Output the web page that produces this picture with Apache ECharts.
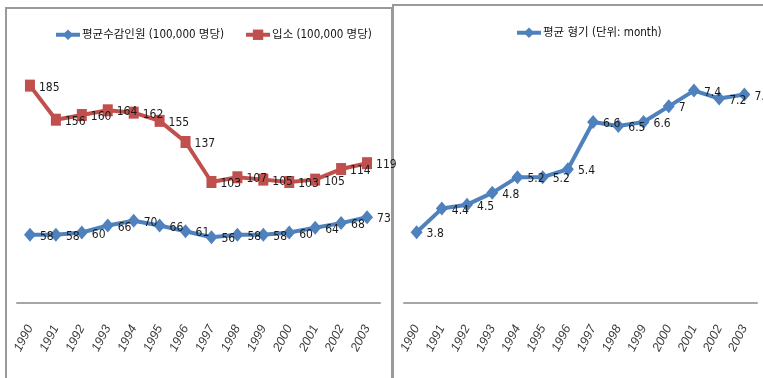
<!DOCTYPE html>
<html>
<head>
<meta charset="utf-8">
<script src="https://cdn.jsdelivr.net/npm/echarts@6/dist/echarts.min.js"></script>
<style>
html,body{margin:0;padding:0;background:#fff;}
#c{width:763px;height:378px;}
</style>
</head>
<body>
<div id="c"></div>
<script>
var years = ['1990','1991','1992','1993','1994','1995','1996','1997','1998','1999','2000','2001','2002','2003'];
var avgInmates = [58,58,60,66,70,66,61,56,58,58,60,64,68,73];
var admissions = [185,156,160,164,162,155,137,103,107,105,103,105,114,119];
var avgSentence = [3.8,4.4,4.5,4.8,5.2,5.2,5.4,6.6,6.5,6.6,7,7.4,7.2,7.3];
var nameInmates = '평균수감인원 (100,000 명당)';
var nameAdmissions = '입소 (100,000 명당)';
var nameSentence = '평균 형기 (단위: month)';

var BLUE = '#4F81BD', RED = '#C0504D';
var narrow = '"Liberation Sans Narrow", "DejaVu Sans Condensed", "Noto Sans CJK KR", sans-serif';

var chart = echarts.init(document.getElementById('c'), null, {renderer:'canvas'});

function xAxisFor(idx){
  return {
    type:'category', gridIndex:idx, data:years, boundaryGap:true,
    axisLine:{show:true, lineStyle:{color:'#a6a6a6', width:2}},
    axisTick:{show:false},
    axisLabel:{rotate:63, margin:23, fontSize:12.5, color:'#3a3a3a', fontStyle:'italic', fontFamily:'"Liberation Sans", sans-serif'},
    splitLine:{show:false}
  };
}
function labelCfg(){
  return {show:true, position:'right', distance:4, offset:[0,2], fontSize:12, color:'#1a1a1a', fontFamily:narrow};
}
var legendText = {fontSize:11.5, color:'#111', fontFamily:narrow, padding:[0,0,0,-3]};

chart.setOption({
  animation:false,
  graphic:[
    {type:'rect', shape:{x:6, y:8, width:386, height:420}, style:{fill:'none', stroke:'#9a9a9a', lineWidth:2}, z:0},
    {type:'rect', shape:{x:393, y:5, width:420, height:420}, style:{fill:'none', stroke:'#9a9a9a', lineWidth:2}, z:0}
  ],
  legend:[
    {left:54, top:29, padding:0, itemWidth:24, itemHeight:13, itemGap:20, lineStyle:{width:4}, data:[nameInmates, nameAdmissions],
     textStyle:legendText},
    {left:515, top:27, padding:0, itemWidth:24, itemHeight:13, lineStyle:{width:4}, data:[nameSentence],
     textStyle:legendText}
  ],
  grid:[
    {left:17, right:383, top:68, bottom:75},
    {left:404, right:6, top:67, bottom:75}
  ],
  xAxis:[xAxisFor(0), xAxisFor(1)],
  yAxis:[
    {type:'value', gridIndex:0, min:0, max:200, show:false, splitLine:{show:false}},
    {type:'value', gridIndex:1, min:2, max:8, show:false, splitLine:{show:false}}
  ],
  series:[
    {name:nameInmates, type:'line', xAxisIndex:0, yAxisIndex:0, data:avgInmates,
     symbol:'diamond', symbolSize:[12,14], lineStyle:{width:4, color:BLUE}, itemStyle:{color:BLUE},
     label:labelCfg()},
    {name:nameAdmissions, type:'line', xAxisIndex:0, yAxisIndex:0, data:admissions,
     symbol:'rect', symbolSize:[10,12], lineStyle:{width:4, color:RED}, itemStyle:{color:RED},
     label:labelCfg()},
    {name:nameSentence, type:'line', xAxisIndex:1, yAxisIndex:1, data:avgSentence,
     symbol:'diamond', symbolSize:[12,14], lineStyle:{width:4, color:BLUE}, itemStyle:{color:BLUE},
     label:labelCfg()}
  ]
});
</script>
</body>
</html>
